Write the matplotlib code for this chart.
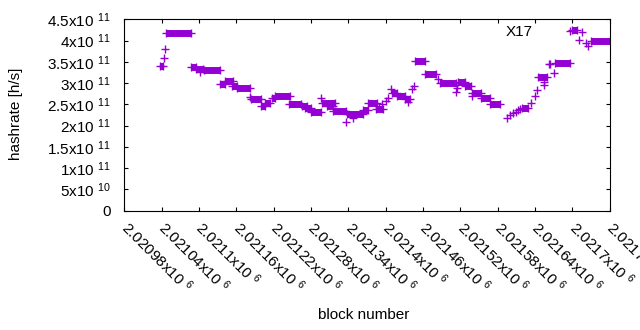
"""
Hashrate X17 per blok - scatter gaya gnuplot.
Output: out.png
"""
import math

import matplotlib
matplotlib.use("Agg")
import matplotlib.pyplot as plt
from matplotlib.ticker import FuncFormatter

# ─── Data (hashrate dalam satuan 1e9 h/s) ───────────────────────────────────
# rentang blok yang titiknya rapat (tampak sebagai batang tebal)
seg_start = [2021037, 2021047, 2021087, 2021095, 2021108, 2021134, 2021142,
             2021153, 2021161, 2021184, 2021200, 2021206, 2021217, 2021222,
             2021245, 2021266, 2021270, 2021280, 2021298, 2021306, 2021316,
             2021338, 2021364, 2021372, 2021385, 2021410, 2021418, 2021431,
             2021447, 2021463, 2021488, 2021516, 2021527, 2021539, 2021553,
             2021568, 2021619, 2021645, 2021662, 2021672, 2021699, 2021731]
seg_end = [2021042, 2021087, 2021095, 2021106, 2021134, 2021142, 2021155,
           2021161, 2021182, 2021200, 2021206, 2021214, 2021222, 2021246,
           2021264, 2021274, 2021280, 2021296, 2021319, 2021315, 2021336,
           2021364, 2021372, 2021386, 2021396, 2021418, 2021431, 2021440,
           2021463, 2021481, 2021513, 2021527, 2021537, 2021553, 2021568,
           2021584, 2021629, 2021659, 2021664, 2021697, 2021707, 2021760]
seg_rate = [339, 417, 337, 334, 330, 297, 305,
            292, 288, 262, 245, 254, 264, 270,
            251, 247, 241, 232, 252, 247, 234,
            226, 237, 252, 238, 276, 270, 262,
            351, 321, 299, 303, 293, 276, 264,
            250, 242, 315, 344, 346, 425, 399]

# titik tunggal
pt_block = [2021044, 2021046, 2021102, 2021182, 2021297, 2021336, 2021348,
            2021390, 2021394, 2021400, 2021404, 2021408, 2021436, 2021442,
            2021446, 2021484, 2021514, 2021515, 2021539, 2021595, 2021600,
            2021605, 2021609, 2021613, 2021616, 2021634, 2021640, 2021643,
            2021654, 2021655, 2021670, 2021711, 2021716, 2021723, 2021726]
pt_rate = [358, 379, 327, 266, 264, 208, 217,
           243, 250, 258, 264, 287, 256, 285,
           293, 310, 280, 288, 270, 217, 225,
           230, 233, 237, 240, 254, 270, 284,
           303, 295, 323, 401, 419, 394, 388]

SCALE = 1e9
X_TICKS = list(range(2020980, 2021761, 60))
Y_TICKS = [i * 0.5e11 for i in range(10)]
COLOR = "#9400D3"

plt.rcParams["font.family"] = ["Liberation Sans", "DejaVu Sans"]
plt.rcParams["mathtext.fontset"] = "custom"
plt.rcParams["mathtext.rm"] = "Liberation Sans"
plt.rcParams["mathtext.it"] = "Liberation Sans:italic"
plt.rcParams["mathtext.bf"] = "Liberation Sans:bold"


def gp_fmt(v, pos=None):
    """Format angka gaya gnuplot: 4.5x10^11."""
    if v == 0:
        return "0"
    e = int(math.floor(math.log10(abs(v)) + 1e-9))
    m = v / 10 ** e
    return f"{m:.6g}x10 $^{{{e}}}$"


fig = plt.figure(figsize=(6.4, 3.3), dpi=100)
ax = fig.add_axes([124.3 / 640, 1 - 210.5 / 330,
                   (609.5 - 124.3) / 640, (210.5 - 19.3) / 330])

ax.hlines([r * SCALE for r in seg_rate], seg_start, seg_end,
          colors=COLOR, linewidth=5.0, capstyle="butt")
ax.plot(seg_start + seg_end, [r * SCALE for r in seg_rate + seg_rate], "+",
        color=COLOR, ms=5.2, mew=1.0, linestyle="none")
ax.plot(pt_block, [r * SCALE for r in pt_rate], "+",
        color=COLOR, ms=5.2, mew=1.0, linestyle="none", label="X17")

ax.set_xlim(X_TICKS[0], X_TICKS[-1])
ax.set_ylim(0, 4.5e11)
ax.set_xticks(X_TICKS)
ax.set_yticks(Y_TICKS)
ax.xaxis.set_major_formatter(FuncFormatter(gp_fmt))
ax.yaxis.set_major_formatter(FuncFormatter(gp_fmt))
ax.tick_params(direction="in", length=3, width=0.8, top=True, right=True,
               labelsize=11, colors="black")
ax.tick_params(axis="y", pad=10)
ax.tick_params(axis="x", pad=10)
plt.setp(ax.get_xticklabels(), rotation=-45, ha="left", va="center",
         rotation_mode="anchor")
for s in ax.spines.values():
    s.set_linewidth(0.8)

ax.legend(loc="center right", bbox_to_anchor=(0.970, 0.9336),
          markerfirst=False, frameon=False, fontsize=11,
          handlelength=3.3, handletextpad=0.8, borderpad=0, borderaxespad=0)

fig.text(16 / 640, 1 - 114 / 330, "hashrate [h/s]", rotation=90,
         ha="center", va="center", fontsize=11)
fig.text(364 / 640, 1 - 315 / 330, "block number",
         ha="center", va="center", fontsize=11)

fig.savefig("out.png", dpi=100)
